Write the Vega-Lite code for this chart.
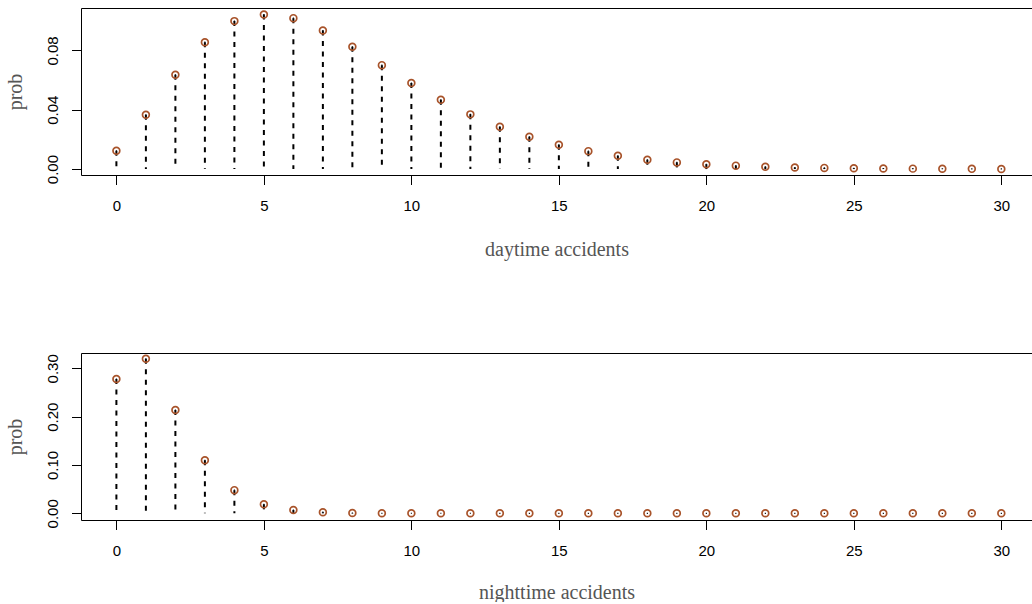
{
  "$schema": "https://vega.github.io/schema/vega-lite/v6.json",
  "autosize": {"type": "pad"},
  "padding": {"left": 5, "top": 7, "right": 0, "bottom": 0},
  "background": "white",
  "spacing": 178,
  "bounds": "flush",
  "config": {
    "view": {"stroke": null},
    "axis": {
      "domainColor": "black",
      "domainWidth": 1,
      "tickColor": "black",
      "tickWidth": 1,
      "tickSize": 9.5,
      "grid": false,
      "labelFont": "Liberation Sans",
      "labelFontSize": 15,
      "labelColor": "black",
      "titleFont": "Liberation Serif",
      "titleFontSize": 20,
      "titleFontWeight": "normal",
      "titleColor": "#555555"
    }
  },
  "datasets": {
    "day": [
      {"k": 0, "prob": 0.0124}, {"k": 1, "prob": 0.0366}, {"k": 2, "prob": 0.0636},
      {"k": 3, "prob": 0.0856}, {"k": 4, "prob": 0.0998}, {"k": 5, "prob": 0.1043},
      {"k": 6, "prob": 0.1018}, {"k": 7, "prob": 0.0935}, {"k": 8, "prob": 0.0825},
      {"k": 9, "prob": 0.0701}, {"k": 10, "prob": 0.0580}, {"k": 11, "prob": 0.0467},
      {"k": 12, "prob": 0.0369}, {"k": 13, "prob": 0.0285}, {"k": 14, "prob": 0.0218},
      {"k": 15, "prob": 0.0164}, {"k": 16, "prob": 0.0121}, {"k": 17, "prob": 0.0090},
      {"k": 18, "prob": 0.0063}, {"k": 19, "prob": 0.0045}, {"k": 20, "prob": 0.0033},
      {"k": 21, "prob": 0.0023}, {"k": 22, "prob": 0.0016}, {"k": 23, "prob": 0.0011},
      {"k": 24, "prob": 0.0008}, {"k": 25, "prob": 0.0006}, {"k": 26, "prob": 0.0004},
      {"k": 27, "prob": 0.0003}, {"k": 28, "prob": 0.0002}, {"k": 29, "prob": 0.00014},
      {"k": 30, "prob": 0.0001}
    ],
    "night": [
      {"k": 0, "prob": 0.278}, {"k": 1, "prob": 0.320}, {"k": 2, "prob": 0.2137},
      {"k": 3, "prob": 0.110}, {"k": 4, "prob": 0.048}, {"k": 5, "prob": 0.0186},
      {"k": 6, "prob": 0.0068}, {"k": 7, "prob": 0.0024}, {"k": 8, "prob": 0.0008},
      {"k": 9, "prob": 0.00026}, {"k": 10, "prob": 0.00008}, {"k": 11, "prob": 0.00003},
      {"k": 12, "prob": 0.00001}, {"k": 13, "prob": 0}, {"k": 14, "prob": 0},
      {"k": 15, "prob": 0}, {"k": 16, "prob": 0}, {"k": 17, "prob": 0},
      {"k": 18, "prob": 0}, {"k": 19, "prob": 0}, {"k": 20, "prob": 0},
      {"k": 21, "prob": 0}, {"k": 22, "prob": 0}, {"k": 23, "prob": 0},
      {"k": 24, "prob": 0}, {"k": 25, "prob": 0}, {"k": 26, "prob": 0},
      {"k": 27, "prob": 0}, {"k": 28, "prob": 0}, {"k": 29, "prob": 0},
      {"k": 30, "prob": 0}
    ]
  },
  "vconcat": [
    {
      "width": 951,
      "height": 167,
      "data": {"name": "day"},
      "resolve": {"axis": {"x": "independent"}},
      "layer": [
        {
          "mark": {"type": "rule", "color": "black", "strokeWidth": 2, "strokeDash": [5, 5.5]},
          "encoding": {
            "x": {"field": "k", "type": "quantitative",
              "scale": {"domain": [-1.2, 31.04], "nice": false, "zero": false},
              "axis": {"values": [0, 5, 10, 15, 20, 25, 30], "labelPadding": 14, "title": "daytime accidents",
                "titleY": 74, "titleBaseline": "middle", "labelFlush": false}},
            "y": {"field": "prob", "type": "quantitative",
              "scale": {"domain": [-0.004, 0.10865], "nice": false, "zero": false},
              "axis": {"values": [0, 0.02, 0.04, 0.06, 0.08, 0.1], "labelAngle": 270, "labelPadding": 11,
                "labelExpr": "round(datum.value*100) % 4 == 0 ? format(datum.value, '.2f') : ''",
                "title": "prob", "titleX": -66, "titleBaseline": "middle", "titleAngle": 270}},
            "y2": {"datum": 0}
          }
        },
        {
          "mark": {"type": "point", "shape": "circle", "filled": false, "stroke": "#A8532A", "strokeWidth": 1.7, "size": 46, "opacity": 1},
          "encoding": {
            "x": {"field": "k", "type": "quantitative",
              "axis": {"orient": "top", "ticks": false, "labels": false, "title": null}},
            "y": {"field": "prob", "type": "quantitative"}
          }
        },
        {
          "mark": {"type": "square", "color": "black", "size": 1.2, "opacity": 1},
          "encoding": {
            "x": {"field": "k", "type": "quantitative", "axis": null},
            "y": {"field": "prob", "type": "quantitative"}
          }
        }
      ]
    },
    {
      "width": 951,
      "height": 167,
      "data": {"name": "night"},
      "resolve": {"axis": {"x": "independent"}},
      "layer": [
        {
          "mark": {"type": "rule", "color": "black", "strokeWidth": 2, "strokeDash": [5, 5.5]},
          "encoding": {
            "x": {"field": "k", "type": "quantitative",
              "scale": {"domain": [-1.2, 31.04], "nice": false, "zero": false},
              "axis": {"values": [0, 5, 10, 15, 20, 25, 30], "labelPadding": 14, "title": "nighttime accidents",
                "titleY": 72, "titleBaseline": "middle", "labelFlush": false}},
            "y": {"field": "prob", "type": "quantitative",
              "scale": {"domain": [-0.0138, 0.3318], "nice": false, "zero": false},
              "axis": {"values": [0, 0.05, 0.1, 0.15, 0.2, 0.25, 0.3], "labelAngle": 270, "labelPadding": 11,
                "labelExpr": "round(datum.value*100) % 10 == 0 ? format(datum.value, '.2f') : ''",
                "title": "prob", "titleX": -66, "titleBaseline": "middle", "titleAngle": 270}},
            "y2": {"datum": 0}
          }
        },
        {
          "mark": {"type": "point", "shape": "circle", "filled": false, "stroke": "#A8532A", "strokeWidth": 1.7, "size": 46, "opacity": 1},
          "encoding": {
            "x": {"field": "k", "type": "quantitative",
              "axis": {"orient": "top", "ticks": false, "labels": false, "title": null}},
            "y": {"field": "prob", "type": "quantitative"}
          }
        },
        {
          "mark": {"type": "square", "color": "black", "size": 1.2, "opacity": 1},
          "encoding": {
            "x": {"field": "k", "type": "quantitative", "axis": null},
            "y": {"field": "prob", "type": "quantitative"}
          }
        }
      ]
    }
  ]
}
